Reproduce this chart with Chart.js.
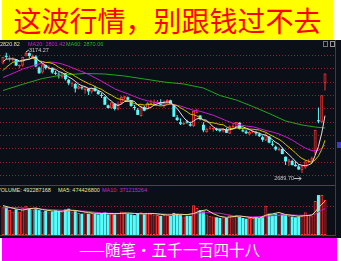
<!DOCTYPE html>
<html>
<head>
<meta charset="utf-8">
<script src="https://cdn.jsdelivr.net/npm/chart.js"></script>
<style>
body{margin:0;width:341px;height:261px;overflow:hidden;background:#fff;position:relative;font-family:"Liberation Sans",Arial,sans-serif}
.abs{position:absolute}
#title{left:2px;top:0;width:331px;height:40px;background:#ffff00;color:#ff0000;font:28px "Noto Sans CJK SC";text-align:center;line-height:40px;white-space:nowrap}
#panel{left:0;top:40px;width:341px;height:198px;background:#0b0f18}
#foot{left:2px;top:238px;width:335px;height:23px;background:#ff00ff;color:#fff;font:15.5px "Noto Sans CJK SC";text-align:center;line-height:23px;white-space:nowrap}
.t{font-size:11px;line-height:14px;white-space:nowrap;transform:scale(0.5);transform-origin:0 0}
canvas{position:absolute;display:block}
</style>
</head>
<body>
<div id="title" class="abs">这波行情，别跟钱过不去</div>
<div id="panel" class="abs"></div>

<canvas id="kline" width="335" height="138" style="left:0;top:46px"></canvas>

<div class="abs t" style="left:0;top:40px;color:#e4e48c">2820.82</div>
<div class="abs t" style="left:28px;top:40px;color:#d022d0">MA20: 2801.42</div>
<div class="abs t" style="left:66px;top:40px;color:#22bb22">MA60: 2870.06</div>
<div class="abs" style="left:323px;top:41px;width:3px;height:4px;border:1px solid #777"></div>
<div class="abs" style="left:330px;top:41px;width:3px;height:4px;border:1px solid #999"></div>

<div class="abs" style="left:0;top:185px;width:335px;height:1px;background:#a81c1c"></div>
<div class="abs t" style="left:-3px;top:186px;color:#e6e6b4">VOLUME: 492287168</div>
<div class="abs t" style="left:58px;top:186px;color:#e6e68c">MA5: 474426800</div>
<div class="abs t" style="left:102px;top:186px;color:#d022d0">MA10: 371215264</div>

<canvas id="vol" width="335" height="45" style="left:0;top:190px"></canvas>

<div class="abs" style="left:0;top:235px;width:335px;height:1px;background:#a81c1c"></div>
<div class="abs" style="left:335px;top:40px;width:1px;height:196px;background:#8a1c1c"></div>
<div class="abs" style="left:337px;top:142px;width:4px;height:6px;background:#3c3cc8"></div>

<div id="foot" class="abs">——随笔•五千一百四十八</div>

<script>
// trading days, 2024-05-09 .. 2024-09-27
const days = ['05-09','05-10','05-13','05-14','05-15','05-16','05-17','05-20','05-21','05-22','05-23','05-24','05-27','05-28','05-29','05-30','05-31',
  '06-03','06-04','06-05','06-06','06-07','06-11','06-12','06-13','06-14','06-17','06-18','06-19','06-20','06-21','06-24','06-25','06-26','06-27','06-28',
  '07-01','07-02','07-03','07-04','07-05','07-08','07-09','07-10','07-11','07-12','07-15','07-16','07-17','07-18','07-19','07-22','07-23','07-24','07-25','07-26','07-29','07-30','07-31',
  '08-01','08-02','08-05','08-06','08-07','08-08','08-09','08-12','08-13','08-14','08-15','08-16','08-19','08-20','08-21','08-22','08-23','08-26','08-27','08-28','08-29','08-30',
  '09-02','09-03','09-04','09-05','09-06','09-09','09-10','09-11','09-12','09-13','09-18','09-19','09-20','09-23','09-24','09-25','09-26','09-27']

const opens = [3128,3159,3148,3145,3144,3116,3120,3160,3170,3153,3156,3112,3092,3122,3105,3111,3089,
  3083,3073,3089,3063,3047,3046,3027,3033,3022,3028,3015,3029,3017,2999,2994,2961,2948,2968,2945,
  2969,2991,2993,2980,2951,2943,2918,2954,2944,2965,2965,2970,2974,2957,2970,2981,2963,2912,2893,2884,2895,2885,2877,
  2931,2920,2883,2853,2867,2864,2866,2860,2857,2864,2847,2873,2873,2891,2861,2856,2844,2855,2852,2845,2833,2820,
  2836,2806,2795,2782,2786,2755,2733,2738,2723,2716,2701,2712,2736,2739,2771,2901,2893,3049]
const highs = [3154,3171,3160,3153,3146,3124,3155,3174.27,3172,3164,3161,3116,3129,3124,3121,3112,3099,
  3093,3092,3090,3066,3055,3050,3041,3039,3033,3029,3031,3039,3022,3010,2998,2964,2973,2969,2976,
  2999,2999,2996,2982,2962,2950,2960,2958,2975,2983,2984,2982,2985,2980,2985,2983,2965,2922,2908,2896,2903,2895,2939,
  2947,2921,2893,2871,2878,2870,2871,2867,2869,2871,2880,2888,2894,2893,2870,2862,2860,2864,2858,2852,2840,2852,
  2837,2818,2800,2793,2792,2756,2746,2743,2737,2725,2721,2742,2745,2755,2863,2952,3001,3088]
const lows = [3125,3146,3135,3135,3118,3109,3115,3156,3150,3146,3113,3087,3088,3104,3103,3087,3082,
  3068,3068,3060,3041,3035,3012,3024,3023,3007,3002,3008,3015,3003,2990,2962,2948,2946,2940,2941,
  2963,2985,2975,2956,2941,2922,2916,2937,2944,2962,2958,2967,2961,2951,2966,2963,2914,2898,2882,2882,2887,2876,2874,
  2930,2901,2853,2851,2863,2855,2858,2853,2852,2850,2847,2870,2872,2864,2853,2846,2841,2850,2840,2834,2815,2818,
  2809,2797,2779,2777,2765,2722,2718,2720,2716,2703,2689.70,2707,2730,2734,2762,2889,2889,3020]
const closes = [3154.32,3154.55,3148.02,3145.77,3119.90,3122.40,3154.03,3171.15,3157.97,3158.54,3116.39,3088.87,3124.04,3109.57,3111.02,3091.68,3086.81,
  3078.49,3091.20,3065.40,3048.79,3051.28,3028.05,3037.47,3028.92,3032.63,3015.89,3030.25,3018.05,3005.44,2998.14,2963.10,2950.00,2972.53,2945.85,2967.40,
  2994.73,2997.01,2982.38,2957.57,2949.93,2922.45,2959.37,2939.36,2970.39,2971.30,2974.01,2976.30,2962.84,2977.13,2982.31,2964.22,2915.37,2901.95,2886.75,2890.90,2891.85,2879.30,2938.75,
  2932.39,2905.34,2860.70,2867.28,2869.90,2869.83,2862.19,2858.20,2867.95,2850.65,2877.36,2879.43,2893.67,2866.66,2856.58,2848.77,2854.37,2855.52,2848.73,2837.43,2823.11,2842.21,
  2811.04,2802.98,2784.28,2788.31,2765.81,2736.49,2744.19,2721.80,2717.12,2704.09,2717.28,2736.02,2736.81,2748.92,2863.13,2896.31,3000.95,3087.53]

const ma5 = [3135.2,3145.2,3146.6,3146.2,3144.6,3138.2,3138,3142.6,3145,3152.8,3151.6,3138.6,3129.2,3119.6,3110,3105.2,3104.8,
  3095.6,3091.8,3082.6,3074,3066.8,3056.8,3046,3038.8,3035.6,3028.6,3029,3025.2,3020.4,3013.4,3002.8,2986.8,2977.8,2966,2959.8,
  2966.2,2975.6,2977.4,2979.8,2976.4,2961.8,2954.2,2945.6,2948,2952.2,2962.6,2966,2970.8,2972.2,2974.4,2972.4,2960.2,2948,2930,2911.8,2897.4,2890.2,2897.6,
  2906.6,2909.4,2903.2,2900.8,2887,2874.6,2866,2865.4,2865.6,2861.8,2863.2,2866.6,2873.8,2873.6,2874.8,2869.2,2864.2,2856.6,2853,2849,2843.8,2841.4,
  2832.4,2823.2,2812.6,2805.6,2790.4,2775.4,2763.6,2751.2,2737,2724.6,2720.8,2719.2,2722.2,2728.6,2760.4,2796.2,2849.2,2919.4]
const ma10 = [3099.8,3113.1,3123.4,3132.7,3135.8,3136.7,3141.6,3144.6,3145.6,3148.7,3144.9,3138.3,3135.9,3132.3,3131.4,3128.4,3121.7,
  3112.4,3105.7,3096.3,3089.6,3085.8,3076.2,3068.9,3060.7,3054.8,3047.7,3042.9,3035.6,3029.6,3024.5,3015.7,3007.9,3001.5,2993.2,2986.6,
  2984.5,2981.2,2977.6,2972.9,2968.1,2964,2964.9,2961.5,2963.9,2964.3,2962.2,2960.1,2958.2,2960.1,2963.3,2967.5,2963.1,2959.4,2951.1,2943.1,2934.9,2925.2,2922.8,
  2918.3,2910.6,2900.3,2895.5,2892.3,2890.6,2887.7,2884.3,2883.2,2874.4,2868.9,2866.3,2869.6,2869.6,2868.3,2866.2,2865.4,2865.2,2863.3,2861.9,2856.5,2852.8,
  2844.5,2838.1,2830.8,2824.7,2815.9,2803.9,2793.4,2781.9,2771.3,2757.5,2748.1,2741.4,2736.7,2732.8,2742.5,2758.5,2784.2,2820.82]
// [day index, value]
const ma20 = [[0,3072],[2,3083],[4,3094],[6,3106],[8,3114],[10,3122],[12,3130],[14,3134],[16,3132],[18,3126],[20,3117],[22,3106],[24,3096],[26,3085],
  [28,3071],[30,3057],[32,3042],[34,3027],[36,3016],[38,3007],[40,2996],[42,2986],[44,2979],[46,2973],[48,2968],[50,2966],[52,2964],[54,2958],
  [56,2949],[58,2941],[60,2937],[62,2929],[64,2921],[66,2910],[68,2899],[70,2889],[72,2883],[74,2878],[76,2875],[78,2868],[80,2860],[82,2854],
  [84,2846],[86,2835],[88,2822],[90,2805],[92,2790],[94,2779],[95,2779],[96,2781],[97,2789],[98,2801.42]]
const ma60 = [[0,3020],[6,3045],[12,3068],[18,3082],[25,3088],[31,3086],[37,3078],[43,3066],[49,3054],[55,3046],[61,3030],[66,3000],
  [71,2982],[76,2956],[81,2928],[86,2898],[91,2882],[95,2874],[98,2870.06]]

// volume, millions
const volumes = [390,400,350,330,360,330,380,410,370,360,380,350,330,340,320,330,350,
  340,330,360,370,320,350,310,300,320,300,310,300,290,310,320,290,300,290,310,
  330,320,300,290,280,300,320,290,310,300,290,280,270,280,290,270,310,300,290,260,270,270,420,
  380,350,330,290,270,260,250,240,250,240,290,270,280,260,240,230,240,240,250,240,250,410,
  300,290,300,280,290,280,270,260,250,260,270,320,280,276,478,562,562,492.3]
const volMa5 = [[0,414],[2,388],[4,366],[6,350],[8,370],[10,380],[12,358],[14,344],[16,334],[18,334],[20,350],[22,346],[24,330],[26,316],[28,306],
  [30,302],[32,302],[34,302],[36,304],[38,310],[40,304],[42,298],[44,300],[46,302],[48,290],[50,282],[52,284],[54,292],[56,286],[58,302],[60,338],
  [62,354],[64,300],[66,262],[68,248],[70,258],[72,268],[74,256],[76,242],[78,240],[80,278],[82,298],[84,316],[86,288],[88,276],[90,264],[92,272],
  [94,281],[95,325],[96,383],[97,432],[98,474.4]]
const volMa10 = [[0,383],[5,384],[10,367],[15,357],[20,342],[25,335],[30,311],[35,302],[40,303],[45,304],[50,293],[55,284],[58,296],[60,312],
  [63,313],[66,306],[70,269],[75,254],[80,264],[85,285],[90,278],[93,276],[95,294],[96,323],[97,352],[98,371.2]]

const priceGrid = [3162, 3108.7, 3055.3, 3002, 2948.7, 2895.3, 2842, 2788.7, 2735.3, 2682]
const volGrid = [408]

const RED = '#ff3434', RED_FILL = '#4a1016', CYAN = '#54fcfc'
const up = closes.map((c, i) => c >= opens[i])
const xMin = -0.91, xMax = 101.04

const pairs = arr => arr.map(p => ({x: p[0], y: p[1]}))
const series = arr => arr.map((v, i) => ({x: i, y: v}))
const line = (data, color) => ({type: 'line', data, borderColor: color, borderWidth: 1, pointRadius: 0, tension: 0, order: 0})

// dotted horizontal grid, placed by the y scale
const dottedGrid = values => ({
  id: 'dottedGrid',
  beforeDatasetsDraw(chart) {
    const {ctx, chartArea: a, scales: {y}} = chart
    ctx.save()
    ctx.strokeStyle = '#8e2222'
    ctx.lineWidth = 1
    ctx.setLineDash([1, 2])
    for (const v of values) {
      const py = Math.round(y.getPixelForValue(v)) + 0.5
      ctx.beginPath(); ctx.moveTo(a.left, py); ctx.lineTo(a.right, py); ctx.stroke()
    }
    ctx.restore()
  }
})

const base = {
  responsive: false, animation: false, devicePixelRatio: 1, events: [],
  plugins: {legend: {display: false}, tooltip: {enabled: false}}
}

// high / low marks
const markers = {
  id: 'markers',
  afterDatasetsDraw(chart) {
    const {ctx, scales: {x, y}} = chart
    const hi = highs.indexOf(Math.max(...highs))
    const lo = lows.indexOf(Math.min(...lows))
    ctx.save()
    ctx.font = '5.5px "Liberation Sans"'
    ctx.fillStyle = '#c8c8c8'
    ctx.strokeStyle = '#c8c8c8'
    ctx.lineWidth = 1
    ctx.textBaseline = 'middle'
    let px = x.getPixelForValue(hi), py = y.getPixelForValue(highs[hi])
    ctx.beginPath(); ctx.moveTo(px, py); ctx.lineTo(px + 3, py - 2); ctx.stroke()
    ctx.fillText(highs[hi].toFixed(2), px + 3, py - 1.5)
    px = x.getPixelForValue(lo); py = y.getPixelForValue(lows[lo])
    ctx.textAlign = 'right'
    ctx.fillText(lows[lo].toFixed(2), px - 8, py + 5)
    ctx.beginPath(); ctx.moveTo(px - 8, py + 5.5); ctx.lineTo(px - 1, py + 5.5)
    ctx.moveTo(px - 3, py + 3.5); ctx.lineTo(px - 1, py + 5.5); ctx.lineTo(px - 3, py + 7.5); ctx.stroke()
    ctx.restore()
  }
}

const xAxis = {type: 'linear', min: xMin, max: xMax, offset: false, display: false}

new Chart(document.getElementById('kline'), {
  type: 'bar',
  data: {
    labels: days,
    datasets: [
      line(series(ma5), '#e2e2e2'),
      line(series(ma10), '#cfc400'),
      line(pairs(ma20), '#c81ec8'),
      line(pairs(ma60), '#1fa81f'),
      {
        data: opens.map((o, i) => ({x: i, y: [o, closes[i]]})),
        backgroundColor: up.map(u => u ? RED_FILL : CYAN),
        borderColor: up.map(u => u ? RED : CYAN),
        borderWidth: up.map(u => u ? 1 : 0),
        borderSkipped: false, inflateAmount: 0,
        barThickness: 3, minBarLength: 1, grouped: false, order: 1
      },
      {
        data: lows.map((l, i) => ({x: i, y: [l, highs[i]]})),
        backgroundColor: up.map(u => u ? RED : CYAN),
        borderWidth: 0, inflateAmount: 0,
        barThickness: 1, grouped: false, order: 2
      }
    ]
  },
  options: {
    ...base,
    layout: {padding: {bottom: 4}},
    scales: {
      x: xAxis,
      y: {min: 2662, max: 3198, display: false}
    }
  },
  plugins: [dottedGrid(priceGrid), markers]
})

new Chart(document.getElementById('vol'), {
  type: 'bar',
  data: {
    labels: days,
    datasets: [
      line(pairs(volMa5), '#e0e08a'),
      line(pairs(volMa10), '#c81ec8'),
      {
        data: volumes.map((v, i) => ({x: i, y: v})),
        backgroundColor: up.map(u => u ? RED_FILL : CYAN),
        borderColor: up.map(u => u ? RED : CYAN),
        borderWidth: up.map(u => u ? 1 : 0),
        borderSkipped: false, inflateAmount: 0,
        barThickness: 3, grouped: false, order: 1
      }
    ]
  },
  options: {
    ...base,
    scales: {
      x: xAxis,
      y: {min: 0, max: 633, display: false}
    }
  },
  plugins: [dottedGrid(volGrid)]
})
</script>
</body>
</html>
